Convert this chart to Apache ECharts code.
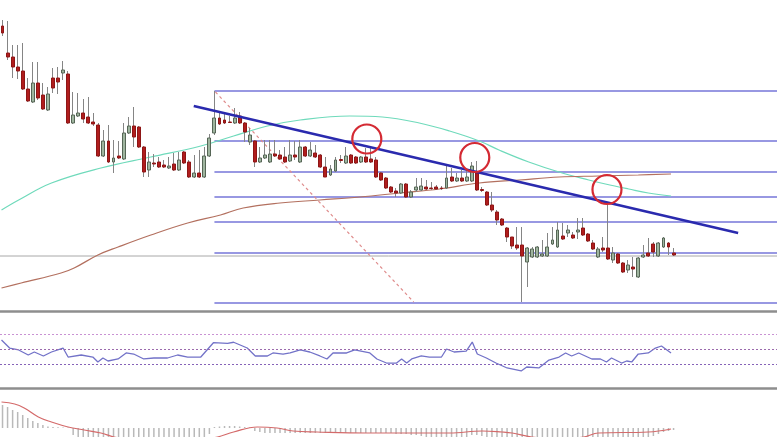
<!DOCTYPE html>
<html><head><meta charset="utf-8">
<script src="https://cdn.jsdelivr.net/npm/echarts@6/dist/echarts.min.js"></script>
<style>html,body{margin:0;padding:0;background:#fff}#c{width:777px;height:437px}</style>
</head><body><div id="c"></div>
<script>
// OHLC candles: [open, close, low, high]
const candles = [
[12.84,12.77,12.74,12.90],[12.57,12.53,12.50,12.89],[12.53,12.43,12.32,12.65],[12.43,12.39,12.31,12.65],
[12.39,12.21,12.20,12.67],[12.21,12.09,12.08,12.32],[12.08,12.27,12.07,12.48],[12.27,12.12,12.10,12.48],
[12.15,12.01,12.00,12.27],[12.00,12.16,11.99,12.23],[12.32,12.22,12.17,12.42],[12.32,12.28,12.16,12.43],
[12.37,12.40,12.30,12.49],[12.36,11.87,11.86,12.39],[11.87,11.95,11.86,12.18],[11.94,11.97,11.93,12.17],
[11.97,11.91,11.87,12.11],[11.93,11.87,11.86,12.13],[11.88,11.86,11.84,11.97],[11.85,11.54,11.53,11.87],
[11.54,11.69,11.53,11.80],[11.69,11.48,11.47,11.85],[11.48,11.52,11.37,11.70],[11.54,11.52,11.51,11.69],
[11.51,11.77,11.50,11.87],[11.77,11.84,11.76,11.93],[11.84,11.73,11.63,12.03],[11.83,11.63,11.62,11.84],
[11.63,11.38,11.33,11.64],[11.40,11.48,11.33,11.58],[11.47,11.46,11.43,11.56],[11.48,11.43,11.42,11.53],
[11.45,11.43,11.42,11.50],[11.42,11.44,11.41,11.53],[11.46,11.40,11.39,11.57],[11.40,11.50,11.39,11.58],
[11.58,11.47,11.46,11.59],[11.48,11.33,11.32,11.50],[11.33,11.37,11.32,11.55],[11.37,11.33,11.32,11.60],
[11.33,11.54,11.32,11.63],[11.54,11.72,11.53,11.76],[11.77,11.92,11.75,12.19],[11.92,11.86,11.85,11.97],
[11.90,11.87,11.86,11.98],[11.88,11.875,11.87,11.94],[11.87,11.92,11.86,12.02],[11.94,11.87,11.86,11.98],
[11.87,11.78,11.68,11.88],[11.68,11.75,11.65,11.82],[11.69,11.48,11.43,11.70],[11.48,11.52,11.47,11.63],
[11.52,11.55,11.51,11.70],[11.48,11.56,11.47,11.70],[11.56,11.54,11.53,11.70],[11.55,11.51,11.50,11.60],
[11.53,11.48,11.47,11.63],[11.49,11.55,11.48,11.70],[11.55,11.53,11.50,11.69],[11.48,11.63,11.47,11.70],
[11.63,11.54,11.53,11.64],[11.54,11.60,11.53,11.68],[11.57,11.53,11.52,11.65],[11.55,11.43,11.42,11.56],
[11.43,11.33,11.33,11.53],[11.35,11.41,11.34,11.45],[11.39,11.50,11.38,11.53],[11.505,11.495,11.47,11.55],
[11.47,11.54,11.46,11.63],[11.55,11.47,11.46,11.56],[11.53,11.47,11.46,11.54],[11.48,11.53,11.47,11.54],
[11.53,11.48,11.47,11.62],[11.51,11.48,11.47,11.63],[11.50,11.33,11.32,11.53],[11.37,11.30,11.29,11.38],
[11.32,11.22,11.21,11.33],[11.23,11.18,11.17,11.24],[11.19,11.17,11.13,11.22],[11.17,11.26,11.16,11.27],
[11.26,11.13,11.12,11.27],[11.13,11.18,11.12,11.20],[11.20,11.23,11.18,11.32],[11.20,11.24,11.19,11.32],
[11.23,11.21,11.20,11.30],[11.22,11.215,11.20,11.28],[11.23,11.21,11.20,11.25],[11.22,11.215,11.20,11.24],
[11.22,11.32,11.21,11.45],[11.33,11.29,11.28,11.42],[11.29,11.32,11.28,11.37],[11.32,11.29,11.28,11.40],
[11.29,11.33,11.28,11.40],[11.29,11.44,11.28,11.48],[11.37,11.20,11.19,11.49],[11.205,11.195,11.18,11.23],
[11.18,11.05,11.04,11.19],[11.05,11.00,10.98,11.18],[10.98,10.90,10.85,11.00],[10.91,10.85,10.84,10.92],
[10.82,10.73,10.68,10.83],[10.73,10.64,10.61,10.73],[10.65,10.62,10.60,10.83],[10.65,10.54,10.08,10.83],
[10.48,10.62,10.23,10.63],[10.53,10.61,10.52,10.63],[10.53,10.63,10.52,10.64],[10.54,10.56,10.53,10.70],
[10.54,10.63,10.53,10.77],[10.66,10.70,10.65,10.83],[10.63,10.80,10.62,10.88],[10.74,10.71,10.70,10.87],
[10.77,10.80,10.73,10.85],[10.75,10.72,10.71,10.78],[10.78,10.80,10.71,10.92],[10.82,10.75,10.74,10.92],
[10.76,10.69,10.68,10.77],[10.67,10.61,10.60,10.70],[10.53,10.61,10.52,10.63],[10.62,10.60,10.58,10.73],
[10.62,10.51,10.50,11.07],[10.50,10.57,10.47,10.63],[10.56,10.47,10.46,10.57],[10.47,10.38,10.37,10.48],
[10.40,10.45,10.37,10.50],[10.43,10.41,10.33,10.53],[10.33,10.52,10.32,10.53],[10.53,10.55,10.52,10.65],
[10.57,10.54,10.53,10.72],[10.66,10.58,10.53,10.68],[10.54,10.67,10.53,10.68],[10.63,10.72,10.62,10.73],
[10.67,10.63,10.55,10.68],[10.57,10.55,10.54,10.62]
];
// slot count of the time axis (candles plus empty space on the right)
const slotCount = 154;
const categories = Array.from({length: slotCount}, (_, i) => 'P' + (i + 1));

// moving averages read as [candle index, price]
const maFast = [[-0.2,11.00],[3.2,11.10],[9.7,11.27],[19.5,11.42],[29.4,11.53],[39.3,11.64],[45.8,11.74],
 [52.5,11.84],[59.0,11.90],[68.8,11.94],[75.3,11.93],[82.6,11.87],[88.6,11.79],[94.5,11.69],[98.4,11.60],
 [104.3,11.48],[110.3,11.38],[116.2,11.30],[119.5,11.26],[124.1,11.21],[128.0,11.17],[132.5,11.14]];
const maSlow = [[-0.2,10.22],[3.7,10.27],[11.6,10.37],[14.2,10.42],[18.9,10.55],[22.9,10.63],[29.4,10.75],
 [36.7,10.87],[43.2,10.95],[47.7,11.02],[55.0,11.07],[62.9,11.10],[70.8,11.13],[78.7,11.17],[86.6,11.21],
 [94.5,11.27],[102.4,11.30],[110.3,11.33],[118.1,11.34],[126.0,11.35],[132.5,11.36]];

// Fibonacci retracement levels (from the swing high candle)
const fibStartIndex = 42;
const fibLevels = [12.19, 11.69, 11.38, 11.13, 10.88, 10.57, 10.07];
const lastPrice = 10.54;
const trendLine = [[37.9, 12.04], [145.8, 10.77]];
const dashedDiagonal = [[42.2, 12.18], [81.5, 10.08]];
const circleMarks = [[72.2, 11.71], [93.6, 11.525], [119.8, 11.205]];

// RSI read as [candle index, value]
const rsi = [[-0.2,62],[1.4,51.3],[3.2,48.7],[5.1,42],[6.3,46],[8.1,40.7],[9.7,46],[12.0,51.3],[13.0,39.3],
 [15.6,42],[17.9,39.3],[18.9,32.7],[19.9,38],[20.9,34],[22.9,36.7],[24.5,44.7],[26.0,43.3],[28.0,36.7],
 [30.0,38],[32.7,38],[34.7,42],[36.7,39.3],[39.3,39.3],[41.8,58.4],[44.6,57.6],[45.8,59],[47.1,55.3],
 [48.5,51.3],[50.1,40.7],[52.5,40.7],[53.6,44.7],[55.6,43.3],[57.0,44.7],[59.0,48.7],[60.9,46],[62.9,40.7],
 [64.3,36.7],[65.5,44.7],[68.2,44.7],[69.8,48.7],[72.8,44.7],[74.2,36.7],[76.1,31.3],[78.1,31.3],[79.1,36.7],
 [80.1,31.3],[81.1,36.7],[83.0,40.7],[84.6,39.3],[87.0,39.3],[88.0,50],[89.5,46],[91.9,47.3],[93.1,59.3],
 [94.1,43.3],[95.9,38],[97.8,31.3],[100.0,24.7],[102.8,20.7],[103.9,26],[106.3,24.7],[108.3,35.3],
 [110.3,39.3],[111.6,44.7],[112.8,40.7],[114.2,44.7],[116.8,36.7],[118.5,36.7],[119.7,32.7],[120.7,38],
 [122.7,31.3],[123.7,34],[124.7,32.7],[126.0,43.3],[128.0,44.7],[129.4,51.3],[130.6,54],[132.5,44.7]];
const rsiLevels = [70, 50, 30];

// MACD histogram per candle, and signal line as [candle index, value]
const macdHist = [23,21,18,16,13,10,7,5,3,1.5,1,0.7,0.5,0.4,
 -7,-9,-11,-12,-13,-14,-15,-15,-16,-16,-16,-15,-15,-14,-14,-13,-13,-12,-12,-11,-11,-10,-10,-10,-10,-9.5,-9,-6,
 1,1.5,2,2,2,1.5,1,0.5,
 -3,-4,-5,-5,-5,-5,-5,-5,-5,-5,-5,-5,-5,-5,-5,-5,-5,-5,-5,-5,-5,-5,-5,-5,-5,-5,-5,-5,-6,-6,-6,-7,-7,
 -8,-9,-10,-10,-10,-9,-9,-9,-9,-9,-7,-7,-8,-10,-12,-14,-15,-17,-19,-20,-21,-20,-19,-18,-17,-16,-15,-14,
 -13,-12,-12,-11,-11,-11,-11,-11,-11,-11,-11,-12,-12,-12,-12,-11,-10,-9,-8,-6,-4,-3,-2];
const macdSignal = [[-0.2,26],[2.4,24],[4.3,20],[7.1,11],[9.7,6],[13.0,1],[16.2,-2],[19.5,-5],[22.1,-9],
 [27.4,-13],[33.3,-14],[39.3,-12],[42.6,-9],[45.8,-4],[50.5,1],[54.4,0],[57.6,-3],[62.3,-4],[72.2,-5],
 [78.7,-5],[88.6,-5],[95.1,-3],[99.0,-4],[101.0,-5],[104.9,-9],[110.3,-11],[115.2,-9],[118.1,-5],[128.0,-4],[132.5,-1]];

const slot = 5.07;
const gl = -1.54;
const gr = 777 - (gl + slotCount * slot);
const xMax = slotCount - 0.5;

const chart = echarts.init(document.getElementById('c'), null, {renderer: 'canvas'});
const sepLine = {show: true, onZero: false, lineStyle: {color: '#8e8e8e', width: 2.5}};

const series = [];
series.push({
  type: 'line', xAxisIndex: 1, yAxisIndex: 0, data: [[-0.5, lastPrice], [xMax, lastPrice]],
  symbol: 'none', lineStyle: {color: '#a8a8a8', width: 1}, silent: true, z: 1
});
fibLevels.forEach(v => series.push({
  type: 'line', xAxisIndex: 1, yAxisIndex: 0, data: [[fibStartIndex, v], [xMax, v]],
  symbol: 'none', lineStyle: {color: '#7676d8', width: 1.5}, silent: true, z: 2
}));
series.push({
  type: 'line', xAxisIndex: 1, yAxisIndex: 0, data: dashedDiagonal, symbol: 'none',
  lineStyle: {color: '#df8c8c', width: 1.2, type: [3, 3]}, silent: true, z: 2
});
series.push({
  type: 'line', xAxisIndex: 1, yAxisIndex: 0, data: maFast, symbol: 'none', smooth: 0.4,
  lineStyle: {color: '#6fdabb', width: 1.2}, silent: true, z: 3
});
series.push({
  type: 'line', xAxisIndex: 1, yAxisIndex: 0, data: maSlow, symbol: 'none', smooth: 0.4,
  lineStyle: {color: '#b3705f', width: 1.2}, silent: true, z: 3
});
// wicks
series.push({
  type: 'candlestick', xAxisIndex: 0, yAxisIndex: 0, data: candles, barWidth: 0.4, z: 4,
  itemStyle: {color: '#858585', color0: '#858585', borderColor: '#858585', borderColor0: '#858585', borderWidth: 1}
});
// bodies
series.push({
  type: 'candlestick', xAxisIndex: 0, yAxisIndex: 0, z: 5, barWidth: 3.4,
  data: candles.map(c => [c[0], c[1], Math.min(c[0], c[1]), Math.max(c[0], c[1])]),
  itemStyle: {color: '#9fb59f', color0: '#b01d1d', borderColor: '#566656', borderColor0: '#8e1616', borderWidth: 1}
});
series.push({
  type: 'line', xAxisIndex: 1, yAxisIndex: 0, data: trendLine, symbol: 'none',
  lineStyle: {color: '#2a2aae', width: 2.5}, silent: true, z: 6
});
series.push({
  type: 'scatter', xAxisIndex: 1, yAxisIndex: 0, data: circleMarks, symbol: 'circle', symbolSize: 29,
  itemStyle: {color: 'rgba(0,0,0,0)', borderColor: '#d42a33', borderWidth: 2.2, opacity: 1}, silent: true, z: 7
});
// RSI
series.push({
  type: 'line', xAxisIndex: 2, yAxisIndex: 1, data: rsi, symbol: 'none',
  lineStyle: {color: '#7272c8', width: 1.3}, silent: true, z: 3,
  markLine: {
    symbol: 'none', silent: true, label: {show: false},
    data: rsiLevels.map((v, i) => ({yAxis: v, lineStyle: {color: ['#c992d3', '#9b6aad', '#8663b8'][i], type: [2, 2], width: 1}}))
  }
});
// MACD
series.push({
  type: 'bar', xAxisIndex: 3, yAxisIndex: 2, data: macdHist, barWidth: 1.5, clip: true,
  itemStyle: {color: '#b9b9b9'}, silent: true
});
series.push({
  type: 'line', xAxisIndex: 4, yAxisIndex: 2, data: macdSignal, symbol: 'none', smooth: 0.4, clip: true,
  lineStyle: {color: '#d46a6a', width: 1.2}, silent: true, z: 3
});

chart.setOption({
  animation: false,
  backgroundColor: '#ffffff',
  grid: [
    {left: gl, right: gr, top: 0, height: 311},
    {left: gl, right: gr, top: 311.5, height: 75},
    {left: gl, right: gr, top: 388, height: 49}
  ],
  xAxis: [
    {type: 'category', gridIndex: 0, data: categories, boundaryGap: true, axisLine: sepLine,
     axisTick: {show: false}, axisLabel: {show: false}, splitLine: {show: false}},
    {type: 'value', gridIndex: 0, min: -0.5, max: xMax, show: false},
    {type: 'value', gridIndex: 1, min: -0.5, max: xMax, show: false},
    {type: 'category', gridIndex: 2, data: categories, position: 'top', boundaryGap: true, axisLine: sepLine,
     axisTick: {show: false}, axisLabel: {show: false}, splitLine: {show: false}},
    {type: 'value', gridIndex: 2, min: -0.5, max: xMax, show: false}
  ],
  yAxis: [
    {type: 'value', gridIndex: 0, min: 9.99, max: 13.10, show: false},
    {type: 'value', gridIndex: 1, min: 0, max: 100, show: false},
    {type: 'value', gridIndex: 2, min: -9, max: 40, show: false}
  ],
  series: series
});
</script>
</body></html>
